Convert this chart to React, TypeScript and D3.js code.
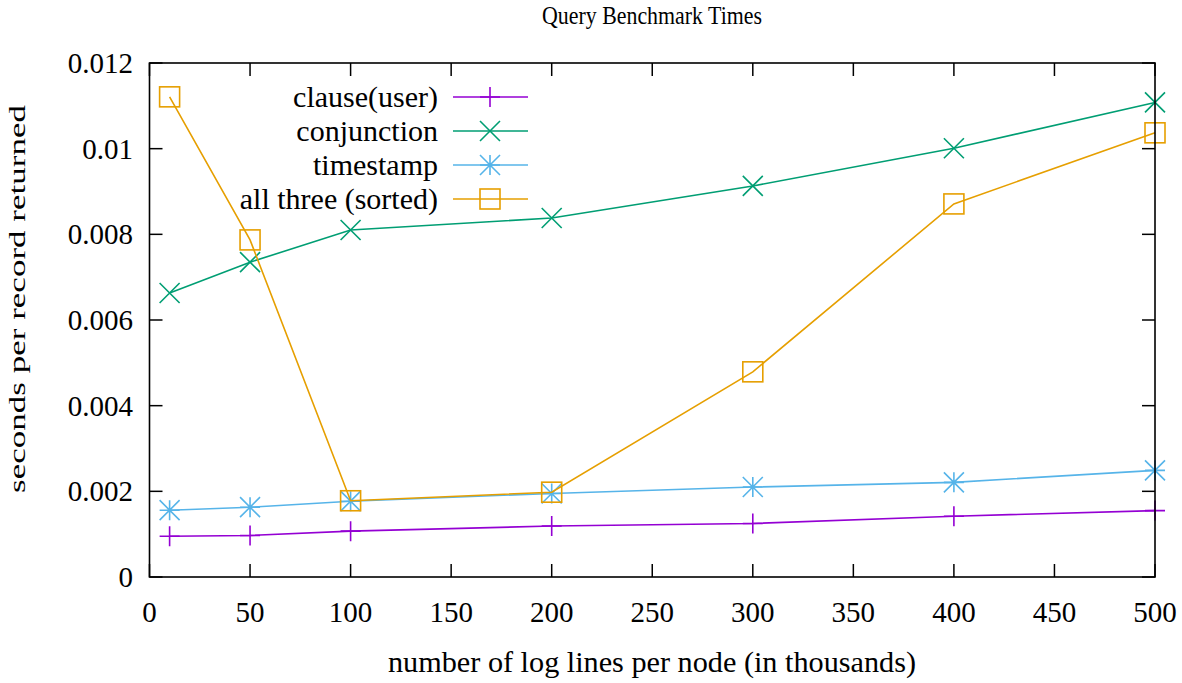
import React from "react";
import * as d3 from "d3";

const xValues = [10, 50, 100, 200, 300, 400, 500];
const clauseUser = [0.00095, 0.00097, 0.00107, 0.00119, 0.00125, 0.00142, 0.00155];
const conjunction = [0.00663, 0.00735, 0.0081, 0.00838, 0.00913, 0.01001, 0.01108];
const timestamp = [0.00156, 0.00163, 0.00177, 0.00195, 0.0021, 0.00221, 0.00249];
const allThree = [0.01121, 0.00787, 0.00178, 0.00198, 0.00479, 0.00871, 0.01037];
const xTicks = [0, 50, 100, 150, 200, 250, 300, 350, 400, 450, 500];
const yTicks = [0, 0.002, 0.004, 0.006, 0.008, 0.01, 0.012];
const yTickLabels = ["0", "0.002", "0.004", "0.006", "0.008", "0.01", "0.012"];

const seriesNames = ["clause(user)", "conjunction", "timestamp", "all three (sorted)"];
const seriesColors = ["#9400d3", "#009e73", "#56b4e9", "#e69f00"];
const seriesMarkers = ["plus", "cross", "star", "square"];
const seriesValues = [clauseUser, conjunction, timestamp, allThree];

const W = 1182, H = 683;
const L = 149.5, R = 1155, T = 63, B = 577;
const FONT = "Liberation Serif, Times New Roman, serif";
const txt = { fontFamily: FONT, fill: "#000" } as React.CSSProperties;

function Marker({ type, x, y, color }: { type: string; x: number; y: number; color: string }) {
  const s = 10;
  const sw = 1.6;
  if (type === "plus")
    return <path d={`M${x - s},${y}H${x + s}M${x},${y - s}V${y + s}`} stroke={color} strokeWidth={sw} fill="none" />;
  if (type === "cross")
    return <path d={`M${x - s},${y - s}L${x + s},${y + s}M${x - s},${y + s}L${x + s},${y - s}`} stroke={color} strokeWidth={sw} fill="none" />;
  if (type === "star")
    return (
      <path
        d={`M${x - s},${y}H${x + s}M${x},${y - s}V${y + s}M${x - s},${y - s}L${x + s},${y + s}M${x - s},${y + s}L${x + s},${y - s}`}
        stroke={color}
        strokeWidth={sw}
        fill="none"
      />
    );
  return <rect x={x - s} y={y - s} width={2 * s} height={2 * s} stroke={color} strokeWidth={sw} fill="none" />;
}

export default function App() {
  const x = d3.scaleLinear().domain([0, 500]).range([L, R]);
  const y = d3.scaleLinear().domain([0, 0.012]).range([B, T]);
  const line = d3
    .line<[number, number]>()
    .x((d) => x(d[0]))
    .y((d) => y(d[1]));
  const tickLen = 13;
  const ySx = 1.45;

  return (
    <svg width={W} height={H} style={{ position: "absolute", left: 0, top: 0, background: "#fff" }}>
      <rect x={0} y={0} width={W} height={H} fill="#fff" />
      <text x={652} y={24} textAnchor="middle" fontSize={25} textLength={220} lengthAdjust="spacingAndGlyphs" style={txt}>
        Query Benchmark Times
      </text>
      {xTicks.map((t) => (
        <g key={"x" + t}>
          <line x1={x(t)} x2={x(t)} y1={B} y2={B - tickLen} stroke="#000" strokeWidth={1.5} />
          <line x1={x(t)} x2={x(t)} y1={T} y2={T + tickLen} stroke="#000" strokeWidth={1.5} />
          <text x={x(t)} y={622} textAnchor="middle" fontSize={29} style={txt}>
            {t}
          </text>
        </g>
      ))}
      {yTicks.map((t, i) => (
        <g key={"y" + t}>
          <line x1={L} x2={L + tickLen} y1={y(t)} y2={y(t)} stroke="#000" strokeWidth={1.5} />
          <line x1={R} x2={R - tickLen} y1={y(t)} y2={y(t)} stroke="#000" strokeWidth={1.5} />
          <text x={133} y={y(t) + 10} textAnchor="end" fontSize={29} style={txt}>
            {yTickLabels[i]}
          </text>
        </g>
      ))}
      {seriesValues.map((vals, si) => {
        const pts = xValues.map((xv, i) => [xv, vals[i]] as [number, number]);
        return (
          <g key={"s" + si}>
            <path d={line(pts) || ""} stroke={seriesColors[si]} strokeWidth={1.6} fill="none" />
            {pts.map((p, i) => (
              <Marker key={i} type={seriesMarkers[si]} x={x(p[0])} y={y(p[1])} color={seriesColors[si]} />
            ))}
          </g>
        );
      })}
      {seriesNames.map((n, i) => {
        const ly = 97 + i * 34;
        return (
          <g key={"l" + i}>
            <text x={438} y={ly + 10} textAnchor="end" fontSize={30} style={txt}>
              {n}
            </text>
            <line x1={453} x2={528} y1={ly} y2={ly} stroke={seriesColors[i]} strokeWidth={1.6} />
            <Marker type={seriesMarkers[i]} x={490} y={ly} color={seriesColors[i]} />
          </g>
        );
      })}
      <rect x={L} y={T} width={R - L} height={B - T} fill="none" stroke="#000" strokeWidth={1.6} />
      <text x={652} y={672} textAnchor="middle" fontSize={30} textLength={528} lengthAdjust="spacingAndGlyphs" style={txt}>
        number of log lines per node (in thousands)
      </text>
      <text
        transform={`translate(25,299) rotate(-90) scale(${ySx},1)`}
        textAnchor="middle"
        fontSize={24}
        textLength={388 / ySx}
        lengthAdjust="spacingAndGlyphs"
        style={txt}
      >
        seconds per record returned
      </text>
    </svg>
  );
}
